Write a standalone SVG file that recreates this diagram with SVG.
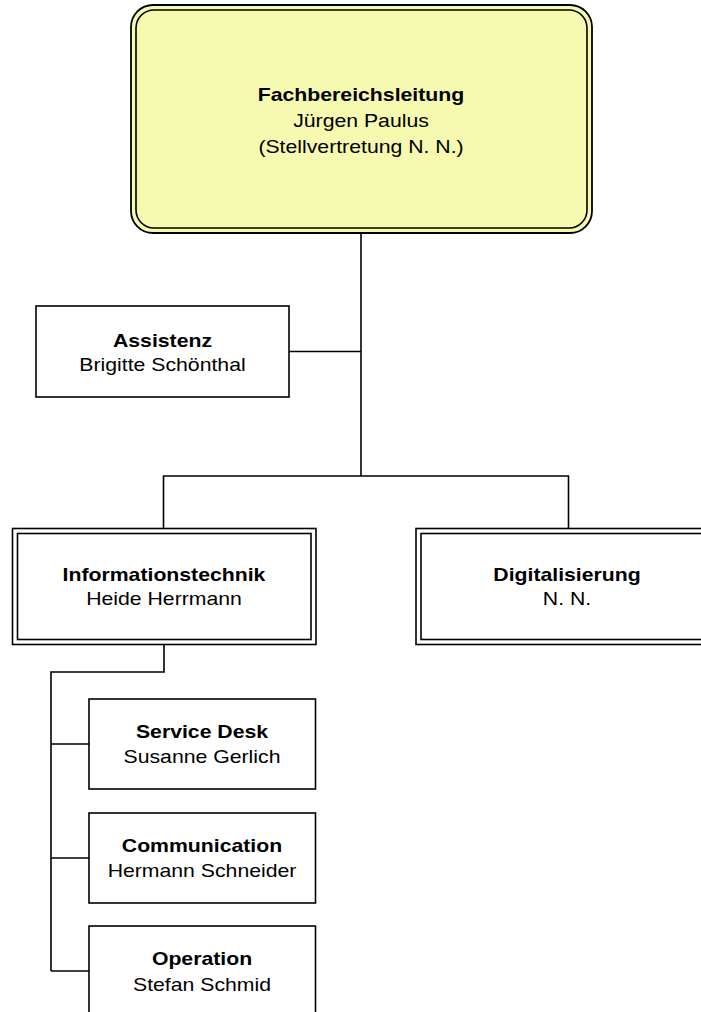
<svg xmlns="http://www.w3.org/2000/svg" width="701" height="1012" viewBox="0 0 701 1012">
<style>
text{font-family:"Liberation Sans",Arial,sans-serif;font-size:18px;fill:#000;text-anchor:middle}
.b{font-weight:bold}
.box{fill:#fff;stroke:#000;stroke-width:1.6}
.inner{fill:none;stroke:#000;stroke-width:1.6}
.top{fill:#F5FAB0;stroke:#000;stroke-width:1.8}
.topin{fill:none;stroke:#000;stroke-width:1.6}
#connectors path{fill:none;stroke:#000;stroke-width:1.6}
</style>
<rect width="701" height="1012" fill="#fff"/>
<g id="connectors">
<path d="M361,233V476"/>
<path d="M289,351.5H361"/>
<path d="M163.5,528.5V476H568.5V528.5"/>
<path d="M164,644.5V672H51V971"/>
<path d="M51,744H89"/>
<path d="M51,858H89"/>
<path d="M51,971H89"/>
</g>
<g id="fachbereichsleitung">
<rect class="top" x="131" y="5" width="461" height="228" rx="22"/>
<rect class="topin" x="136" y="10" width="451" height="218" rx="18"/>
<text class="b" transform="translate(361 101) scale(1.18 1)">Fachbereichsleitung</text>
<text transform="translate(361 127) scale(1.18 1)">Jürgen Paulus</text>
<text transform="translate(361 152.5) scale(1.18 1)">(Stellvertretung N. N.)</text>
</g>
<g id="assistenz">
<rect class="box" x="36" y="306" width="253" height="91"/>
<text class="b" transform="translate(162.5 346.5) scale(1.18 1)">Assistenz</text>
<text transform="translate(162.5 371) scale(1.18 1)">Brigitte Schönthal</text>
</g>
<g id="informationstechnik">
<rect class="box" x="12.5" y="528.5" width="303.5" height="116"/>
<rect class="inner" x="17.5" y="533.5" width="293.5" height="106"/>
<text class="b" transform="translate(164 580.5) scale(1.18 1)">Informationstechnik</text>
<text transform="translate(164 605) scale(1.18 1)">Heide Herrmann</text>
</g>
<g id="digitalisierung">
<rect class="box" x="416" y="528.5" width="303.5" height="116"/>
<rect class="inner" x="421" y="533.5" width="293.5" height="106"/>
<text class="b" transform="translate(567 580.5) scale(1.18 1)">Digitalisierung</text>
<text transform="translate(567 605) scale(1.18 1)">N. N.</text>
</g>
<g id="servicedesk">
<rect class="box" x="89" y="699" width="226.5" height="90"/>
<text class="b" transform="translate(202 738) scale(1.18 1)">Service Desk</text>
<text transform="translate(202 763) scale(1.18 1)">Susanne Gerlich</text>
</g>
<g id="communication">
<rect class="box" x="89" y="813" width="226.5" height="90"/>
<text class="b" transform="translate(202 852) scale(1.18 1)">Communication</text>
<text transform="translate(202 877) scale(1.18 1)">Hermann Schneider</text>
</g>
<g id="operation">
<rect class="box" x="89" y="926" width="226.5" height="90"/>
<text class="b" transform="translate(202 965) scale(1.18 1)">Operation</text>
<text transform="translate(202 990.5) scale(1.18 1)">Stefan Schmid</text>
</g>
</svg>
